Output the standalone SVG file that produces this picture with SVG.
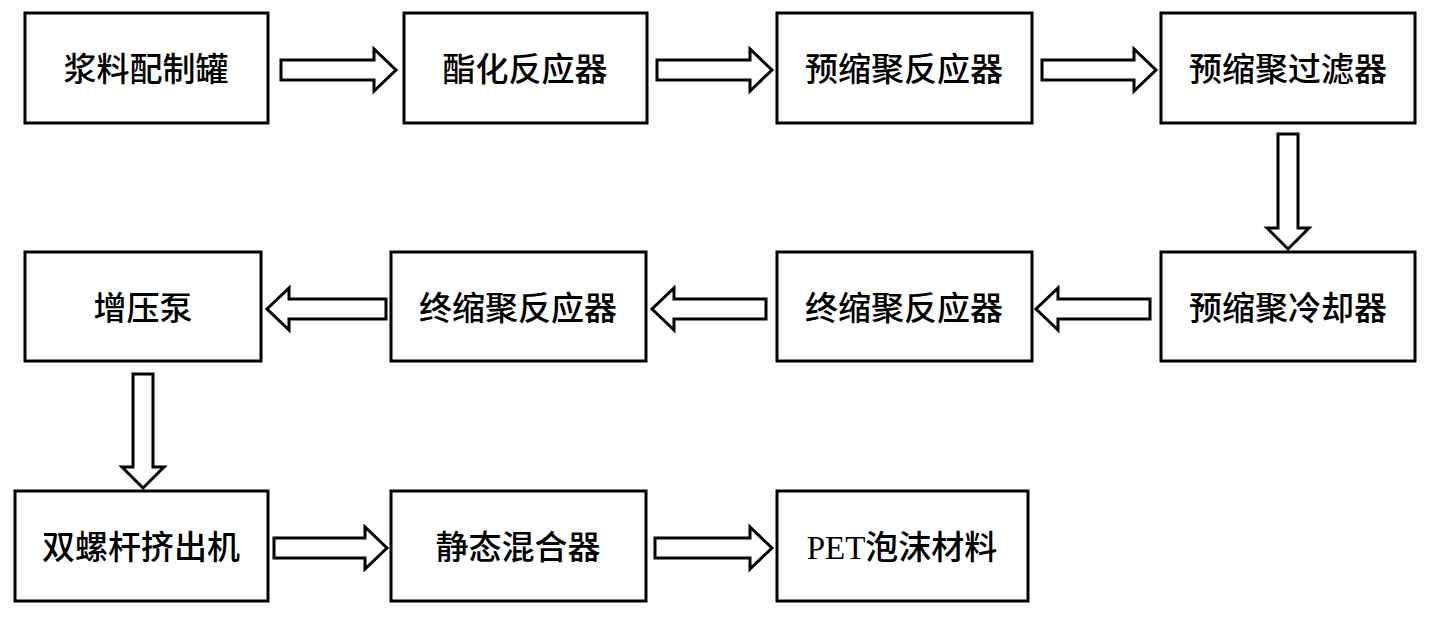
<svg xmlns="http://www.w3.org/2000/svg" width="1430" height="618" viewBox="0 0 1430 618">
<style>
rect{fill:#fff;stroke:#000;stroke-width:3}
.a{fill:#fff;stroke:#000;stroke-width:3;stroke-linejoin:miter}
text{font-family:"Liberation Serif","Noto Sans CJK SC",serif;font-size:33px;font-weight:500;text-anchor:middle;dominant-baseline:central;fill:#000}
</style>
<rect width="1430" height="618" style="stroke:none"/>
<g id="n1"><rect x="25" y="13" width="243" height="110"/><text x="146" y="70">浆料配制罐</text></g>
<g id="n2"><rect x="404" y="13" width="243" height="110"/><text x="525" y="70">酯化反应器</text></g>
<g id="n3"><rect x="777" y="13" width="255" height="110"/><text x="904" y="70">预缩聚反应器</text></g>
<g id="n4"><rect x="1161" y="13" width="254" height="110"/><text x="1288" y="70">预缩聚过滤器</text></g>
<g id="n5"><rect x="1161" y="252" width="254" height="109"/><text x="1288" y="309">预缩聚冷却器</text></g>
<g id="n6"><rect x="777" y="252" width="255" height="109"/><text x="904" y="309">终缩聚反应器</text></g>
<g id="n7"><rect x="391" y="252" width="255" height="109"/><text x="518" y="309">终缩聚反应器</text></g>
<g id="n8"><rect x="25" y="252" width="236" height="109"/><text x="143" y="309">增压泵</text></g>
<g id="n9"><rect x="15" y="491" width="253" height="110"/><text x="141" y="548">双螺杆挤出机</text></g>
<g id="n10"><rect x="391" y="491" width="255" height="110"/><text x="518" y="548">静态混合器</text></g>
<g id="n11"><rect x="777" y="491" width="251" height="110"/><text x="902" y="548">PET泡沫材料</text></g>
<g id="connectors">
<polygon class="a" points="281,60 374,60 374,49 396,70 374,91 374,80 281,80"/>
<polygon class="a" points="657,60 750,60 750,49 772,70 750,91 750,80 657,80"/>
<polygon class="a" points="1042,60 1134,60 1134,49 1156,70 1134,91 1134,80 1042,80"/>
<polygon class="a" points="1278,134 1298,134 1298,228 1309,228 1288,249 1267,228 1278,228"/>
<polygon class="a" points="1150,299 1058,299 1058,288 1036,309 1058,330 1058,319 1150,319"/>
<polygon class="a" points="766,299 674,299 674,288 652,309 674,330 674,319 766,319"/>
<polygon class="a" points="386,299 289,299 289,288 267,309 289,330 289,319 386,319"/>
<polygon class="a" points="133,374 153,374 153,467 164,467 143,488 122,467 133,467"/>
<polygon class="a" points="274,538 365,538 365,527 387,548 365,569 365,558 274,558"/>
<polygon class="a" points="655,538 750,538 750,527 772,548 750,569 750,558 655,558"/>
</g>
</svg>
